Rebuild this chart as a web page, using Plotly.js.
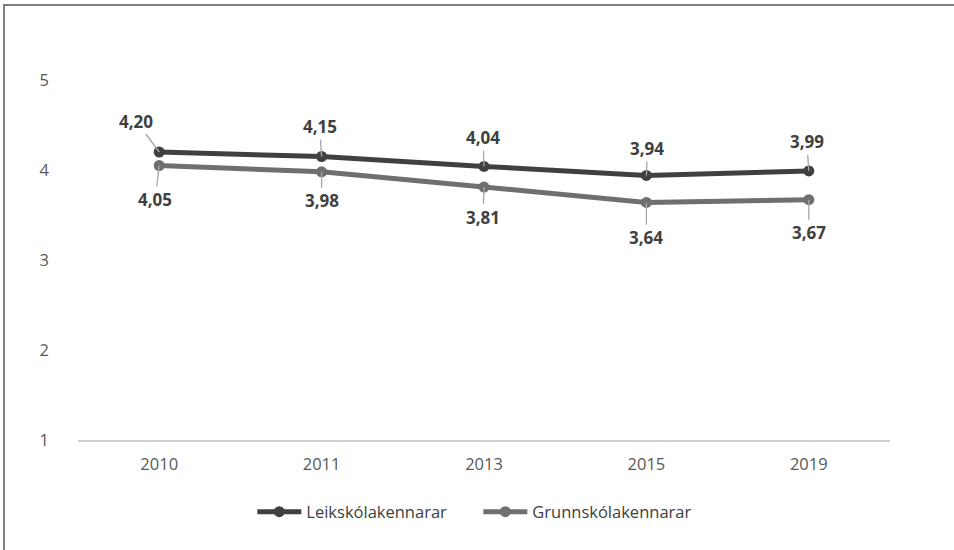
<!DOCTYPE html>
<html>
<head>
<meta charset="utf-8">
<script src="https://cdn.plot.ly/plotly-3.0.1.min.js"></script>
<style>
  html, body { margin: 0; padding: 0; background: #fff; }
  #frame { position: absolute; left: 3px; top: 4px; width: 951px; height: 546px;
           border-top: 2px solid #7f7f7f; border-left: 2px solid #7f7f7f; box-sizing: border-box; }
  #chart { position: absolute; left: 0; top: 0; width: 954px; height: 550px; }
</style>
</head>
<body>
<div id="frame"></div>
<div id="chart"></div>
<script>
const years = ["2010", "2011", "2013", "2015", "2019"];
const leikskolakennarar = [4.20, 4.15, 4.04, 3.94, 3.99];
const grunnskolakennarar = [4.05, 3.98, 3.81, 3.64, 3.67];
const seriesNames = ["Leikskólakennarar", "Grunnskólakennarar"];
const yTicks = [1, 2, 3, 4, 5];

const leikOffsets = [[-23, -31], [-2, -30], [-1, -29], [1, -27], [-2, -29]];
const grunnOffsets = [[-4, 34], [0, 29], [-1, 30], [0, 35], [0, 33]];

const darkCol = '#404040';
const lightCol = '#6f6f6f';
const fontFam = '"Open Sans", Lato, sans-serif';

const fmt = v => v.toFixed(2).replace('.', ',');

const traces = [
  { x: years, y: leikskolakennarar, name: seriesNames[0], type: 'scatter', mode: 'lines+markers',
    line: { color: darkCol, width: 5 }, marker: { color: darkCol, size: 11 }, hoverinfo: 'skip' },
  { x: years, y: grunnskolakennarar, name: seriesNames[1], type: 'scatter', mode: 'lines+markers',
    line: { color: lightCol, width: 5 }, marker: { color: lightCol, size: 11 }, hoverinfo: 'skip' }
];

const annotations = [];
function addLabels(vals, offs) {
  vals.forEach((v, i) => {
    annotations.push({
      x: i, y: v, xref: 'x', yref: 'y', text: '<b>' + fmt(v) + '</b>',
      showarrow: true, arrowhead: 0, arrowwidth: 1.3, arrowcolor: '#a6a6a6',
      ax: offs[i][0], ay: offs[i][1], standoff: 0,
      font: { family: fontFam, size: 17, color: '#404040' }
    });
  });
}
addLabels(leikskolakennarar, leikOffsets);
addLabels(grunnskolakennarar, grunnOffsets);

const layout = {
  width: 954, height: 550,
  paper_bgcolor: 'rgba(0,0,0,0)', plot_bgcolor: 'rgba(0,0,0,0)',
  margin: { l: 78, r: 64, t: 80, b: 110 },
  showlegend: true,
  legend: { orientation: 'h', x: 0.493, xanchor: 'center', y: -0.2, yanchor: 'middle',
            font: { family: fontFam, size: 16.5, color: '#404040' }, itemwidth: 44,
            entrywidth: 167, entrywidthmode: 'pixels', traceorder: 'normal' },
  xaxis: { type: 'category', range: [-0.5, 4.5], showgrid: false, zeroline: false,
           showline: true, linecolor: '#d0d0d0', linewidth: 1.5, ticks: '',
           tickfont: { family: fontFam, size: 16.5, color: '#595959' }, ticklabelstandoff: 9 },
  yaxis: { range: [1, 5], tickvals: yTicks, showgrid: false, zeroline: false, showline: false, ticks: '',
           tickfont: { family: fontFam, size: 16.5, color: '#595959' }, ticklabelstandoff: 28 },
  annotations: annotations
};

Plotly.newPlot('chart', traces, layout, { displayModeBar: false, staticPlot: true });
</script>
</body>
</html>
